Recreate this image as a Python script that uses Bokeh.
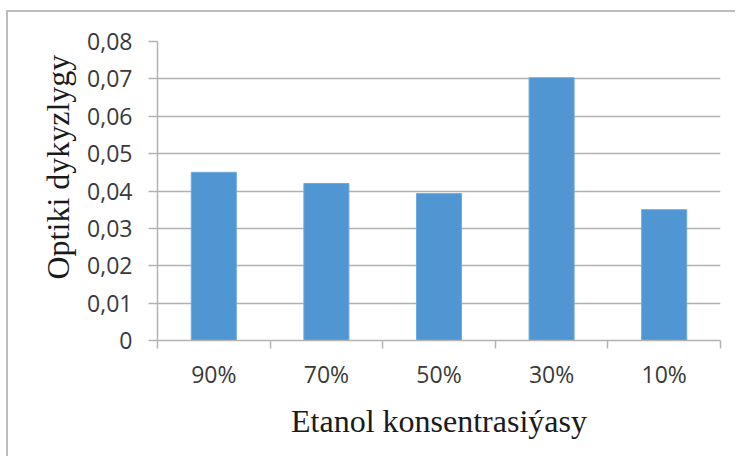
from bokeh.plotting import figure
from bokeh.models import FixedTicker, Title
from bokeh.embed import file_html
from bokeh.resources import INLINE

categories = ["90%", "70%", "50%", "30%", "10%"]
values = [0.045, 0.042, 0.0393, 0.0703, 0.035]
y_ticks = [0.0, 0.01, 0.02, 0.03, 0.04, 0.05, 0.06, 0.07, 0.08]
y_tick_labels = ["0", "0,01", "0,02", "0,03", "0,04", "0,05", "0,06", "0,07", "0,08"]
x_title = "Etanol konsentrasiýasy"
y_title = "Optiki dykyzlygy"

n = len(categories)
xs = [i + 0.5 for i in range(n)]

p = figure(width=729, height=446, x_range=(0, n), y_range=(0, 0.08),
           output_backend="svg", toolbar_location=None,
           min_border_left=149, min_border_right=17, min_border_top=29, min_border_bottom=118)
p.styles = {"border-top": "2px solid #bdbdbd", "border-left": "2px solid #bdbdbd",
            "margin-top": "10px", "margin-left": "6px"}
p.outline_line_color = None
p.background_fill_color = "white"
p.border_fill_color = "white"

p.vbar(x=xs, top=values, width=0.4, fill_color="#4f96d2", line_color="#6ea9dc", line_width=1)

# y axis
ya = p.yaxis[0]
ya.ticker = FixedTicker(ticks=y_ticks, minor_ticks=[])
ya.major_label_overrides = {t: l for t, l in zip(y_ticks, y_tick_labels)}
ya.axis_line_color = "#b3b3b3"
ya.axis_line_width = 1.5
ya.major_tick_line_color = "#b3b3b3"
ya.major_tick_line_width = 1.5
ya.major_tick_out = 9
ya.major_tick_in = 0
ya.minor_tick_line_color = None
ya.major_label_standoff = 16
ya.major_label_text_font = "Open Sans"
ya.major_label_text_font_size = "23px"
ya.major_label_text_color = "#3a3a3a"

# x axis
xa = p.xaxis[0]
xa.ticker = FixedTicker(ticks=xs, minor_ticks=list(range(n + 1)))
xa.major_label_overrides = {x: c for x, c in zip(xs, categories)}
xa.axis_line_color = "#b3b3b3"
xa.axis_line_width = 1.5
xa.major_tick_line_color = None
xa.major_tick_out = 0
xa.major_tick_in = 0
xa.minor_tick_line_color = "#b3b3b3"
xa.minor_tick_line_width = 1.5
xa.minor_tick_out = 8
xa.minor_tick_in = 0
xa.major_label_standoff = 9
xa.major_label_text_font = "Open Sans"
xa.major_label_text_font_size = "23px"
xa.major_label_text_color = "#3a3a3a"
xa.axis_label = x_title
xa.axis_label_text_font = "Liberation Serif"
xa.axis_label_text_font_size = "32px"
xa.axis_label_text_font_style = "normal"
xa.axis_label_text_color = "#1a1a1a"
xa.axis_label_standoff = 10

p.xgrid.grid_line_color = None
p.ygrid.ticker = FixedTicker(ticks=y_ticks)
p.ygrid.grid_line_color = "#b0b0b0"
p.ygrid.grid_line_width = 1.5

p.add_layout(Title(text=y_title, align="left", offset=61, standoff=18,
                   text_font="Liberation Serif", text_font_size="32px",
                   text_font_style="normal", text_color="#1a1a1a"), "left")

open("out.html", "w").write(file_html(p, INLINE))
